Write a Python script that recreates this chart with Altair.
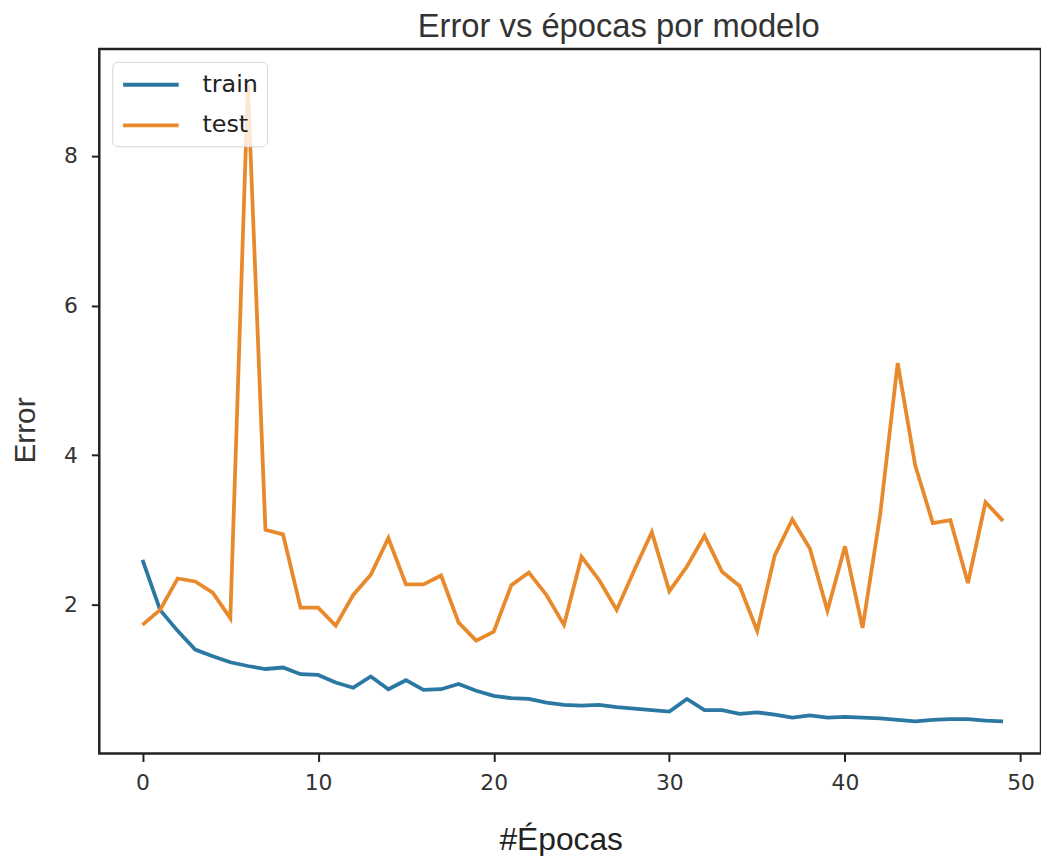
import altair as alt
import pandas as pd

epochs = list(range(50))
train = [2.60, 1.93, 1.65, 1.40, 1.31, 1.23, 1.18, 1.14, 1.16, 1.07,
         1.06, 0.96, 0.89, 1.04, 0.87, 0.99, 0.86, 0.87, 0.94, 0.85,
         0.78, 0.75, 0.74, 0.69, 0.66, 0.65, 0.66, 0.63, 0.61, 0.59,
         0.57, 0.74, 0.59, 0.59, 0.54, 0.56, 0.53, 0.49, 0.52, 0.49,
         0.50, 0.49, 0.48, 0.46, 0.44, 0.46, 0.47, 0.47, 0.45, 0.44]
test = [1.73, 1.93, 2.35, 2.31, 2.16, 1.82, 8.95, 3.00, 2.94, 1.96,
        1.96, 1.72, 2.13, 2.40, 2.89, 2.27, 2.27, 2.39, 1.76, 1.52,
        1.64, 2.26, 2.43, 2.13, 1.73, 2.64, 2.33, 1.93, 2.46, 2.97,
        2.18, 2.51, 2.92, 2.44, 2.25, 1.65, 2.66, 3.14, 2.75, 1.92,
        2.78, 1.69, 3.20, 5.23, 3.86, 3.09, 3.13, 2.29, 3.37, 3.12]
series = ["train", "test"]
colors = ["#2b78a2", "#e8892b"]
x_ticks = [0, 10, 20, 30, 40, 50]
y_ticks = [2, 4, 6, 8]

rows = []
for name, vals in zip(series, [train, test]):
    for e, v in zip(epochs, vals):
        rows.append({"epoch": e, "error": v, "serie": name, "order": series.index(name)})
df = pd.DataFrame(rows)

W, H = 949, 710

chart = alt.Chart(df).mark_line(strokeWidth=3.8).encode(
    x=alt.X("epoch:Q",
            scale=alt.Scale(domain=[-2.46, 51.16], nice=False, zero=False),
            axis=alt.Axis(values=x_ticks, title="#Épocas", grid=False, domain=False,
                          tickSize=8, tickWidth=2, tickColor="#222",
                          labelFont="DejaVu Sans", labelFontSize=22, labelColor="#333",
                          labelPadding=11, labelFlush=False,
                          titleFont="Liberation Sans", titleFontSize=32, titleFontWeight="normal",
                          titleColor="#222", titleX=465, titleY=87, titleBaseline="middle",
                          titleAlign="center")),
    y=alt.Y("error:Q",
            scale=alt.Scale(domain=[0.01, 9.43], nice=False, zero=False),
            axis=alt.Axis(values=y_ticks, title="Error", grid=False, domain=False,
                          tickSize=8, tickWidth=2, tickColor="#222",
                          labelFont="DejaVu Sans", labelFontSize=22, labelColor="#333",
                          labelPadding=14, labelFlush=False,
                          titleFont="Liberation Sans", titleFontSize=30, titleFontWeight="normal",
                          titleColor="#333", titleX=-74, titleY=384, titleAngle=-90,
                          titleBaseline="middle", titleAlign="center")),
    color=alt.Color("serie:N",
                    scale=alt.Scale(domain=series, range=colors),
                    legend=alt.Legend(title=None, orient="none", legendX=13, legendY=13,
                                      symbolType="M-1,0H3.67", symbolSize=576,
                                      symbolStrokeWidth=4, symbolFillColor="transparent",
                                      labelFont="DejaVu Sans", labelFontSize=24, labelColor="#222",
                                      labelOffset=54, rowPadding=15, padding=9,
                                      fillColor="rgba(255,255,255,0.8)", strokeColor="#d8d8d8",
                                      cornerRadius=5)),
    order=alt.Order("order:Q"),
).properties(
    width=W, height=H,
    title=alt.TitleParams("Error vs épocas por modelo", font="Liberation Sans", fontSize=33,
                          fontWeight="normal", color="#333", anchor="middle", dx=49, dy=34,
                          baseline="bottom", offset=6, frame="group"),
    autosize=alt.AutoSizeParams(type="none"),
    padding={"left": 92, "top": 38, "right": 0, "bottom": 100},
    background="white",
).configure_view(stroke="#222", strokeWidth=2.5)

chart.save("out.html", embed_options={"renderer": "svg", "actions": False})
